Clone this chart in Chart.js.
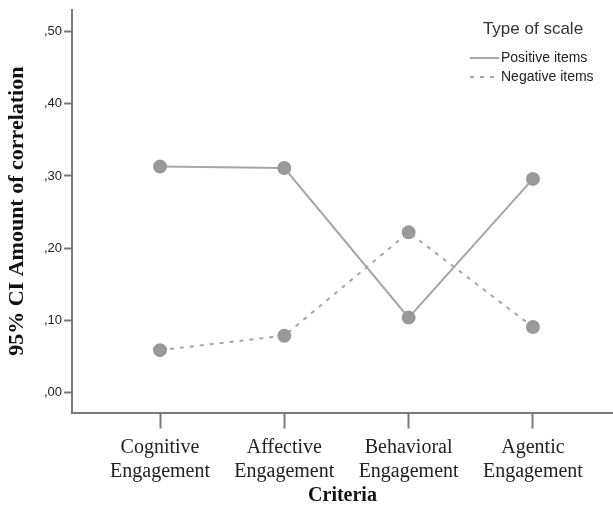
<!DOCTYPE html>
<html>
<head>
<meta charset="utf-8">
<script src="https://cdn.jsdelivr.net/npm/chart.js@4.4.1/dist/chart.umd.min.js"></script>
<style>
    html, body { margin: 0; padding: 0; background: #fff; }
    #wrap { width: 613px; height: 507px; }
</style>
</head>
<body>
<div id="wrap"><canvas id="chart" width="613" height="507"></canvas></div>
<script>
const categories = [
    ['Cognitive', 'Engagement'],
    ['Affective', 'Engagement'],
    ['Behavioral', 'Engagement'],
    ['Agentic', 'Engagement']
];
const positiveItems = [0.313, 0.311, 0.104, 0.296];
const negativeItems = [0.059, 0.079, 0.222, 0.091];
const yTicks = [0, 0.1, 0.2, 0.3, 0.4, 0.5];

const SERIF = '"Liberation Serif", "Times New Roman", serif';
const SANS = '"Liberation Sans", Arial, sans-serif';
const AXIS = '#7a7a7a';

const toPoints = values => values.map((v, i) => ({ x: i, y: v }));

// SPSS-style legend drawn inside the plot frame, top right
const spssLegend = {
    id: 'spssLegend',
    afterDraw(chart) {
        const ctx = chart.ctx;
        ctx.save();
        ctx.fillStyle = '#333';
        ctx.font = '17px ' + SANS;
        ctx.textAlign = 'center';
        ctx.textBaseline = 'middle';
        ctx.fillText('Type of scale', 533, 29);

        ctx.font = '14px ' + SANS;
        ctx.textAlign = 'left';
        chart.data.datasets.forEach((ds, i) => {
            const y = 58 + i * 19;
            ctx.strokeStyle = ds.borderColor;
            ctx.lineWidth = ds.borderWidth;
            ctx.setLineDash(ds.borderDash || []);
            ctx.beginPath();
            ctx.moveTo(470, y);
            ctx.lineTo(499, y);
            ctx.stroke();
            ctx.setLineDash([]);
            ctx.fillStyle = '#222';
            ctx.fillText(ds.label, 501, y);
        });
        ctx.restore();
    }
};

new Chart(document.getElementById('chart'), {
    type: 'line',
    data: {
        datasets: [
            {
                label: 'Positive items',
                data: toPoints(positiveItems),
                borderColor: '#a6a6a6',
                borderWidth: 2,
                pointRadius: 6,
                pointBackgroundColor: '#999999',
                pointBorderColor: '#999999',
                tension: 0
            },
            {
                label: 'Negative items',
                data: toPoints(negativeItems),
                borderColor: '#a6a6a6',
                borderWidth: 2,
                borderDash: [4, 6],
                pointRadius: 6,
                pointBackgroundColor: '#999999',
                pointBorderColor: '#999999',
                tension: 0
            }
        ]
    },
    options: {
        responsive: false,
        animation: false,
        layout: { autoPadding: false, padding: { top: 9, right: 0, bottom: 0, left: 0 } },
        plugins: {
            legend: { display: false },
            tooltip: { enabled: false }
        },
        scales: {
            x: {
                type: 'linear',
                min: -0.708,
                max: 3.644,
                afterBuildTicks: scale => {
                    scale.ticks = categories.map((c, i) => ({ value: i }));
                },
                afterFit: scale => {
                    scale.height = 94.5;
                    // frame runs to the right edge, labels may overhang
                    scale.paddingLeft = 0;
                    scale.paddingRight = 0;
                },
                border: { color: AXIS, width: 2 },
                grid: {
                    drawOnChartArea: false,
                    tickLength: 16,
                    tickWidth: 2,
                    tickColor: AXIS
                },
                ticks: {
                    padding: 7,
                    color: '#222',
                    maxRotation: 0,
                    autoSkip: false,
                    font: { family: SERIF, size: 20, lineHeight: 1.2 },
                    callback: value => categories[value]
                },
                title: {
                    display: true,
                    text: 'Criteria',
                    color: '#111',
                    font: { family: SERIF, size: 20, weight: 'bold', lineHeight: 1.0 },
                    padding: { top: 0, bottom: 1 }
                }
            },
            y: {
                min: -0.0273,
                max: 0.530,
                afterBuildTicks: scale => {
                    scale.ticks = yTicks.map(v => ({ value: v }));
                },
                afterFit: scale => { scale.width = 72; },
                border: { color: AXIS, width: 2 },
                grid: {
                    drawOnChartArea: false,
                    tickLength: 8,
                    tickWidth: 2,
                    tickColor: AXIS
                },
                ticks: {
                    padding: 2,
                    color: '#222',
                    font: { family: SANS, size: 13 },
                    callback: value => value.toFixed(2).replace('0.', ',')
                },
                title: {
                    display: true,
                    text: '95% CI Amount of correlation',
                    color: '#111',
                    font: { family: SERIF, size: 22, weight: 'bold', lineHeight: 1.2 },
                    padding: { top: 4, bottom: 0 }
                }
            }
        }
    },
    plugins: [spssLegend]
});
</script>
</body>
</html>
